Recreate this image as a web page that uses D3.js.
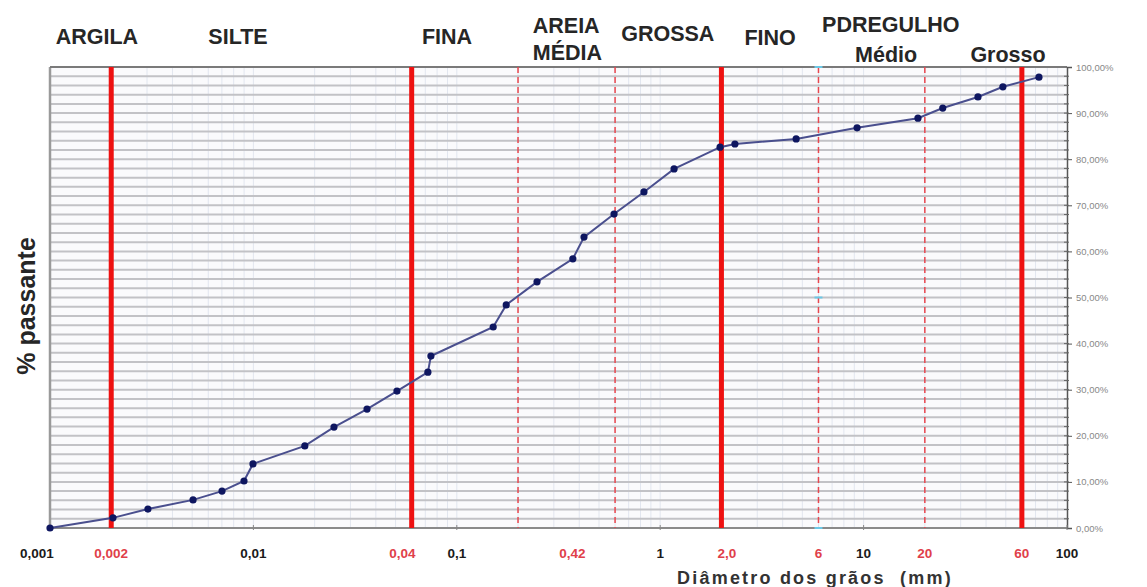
<!DOCTYPE html>
<html>
<head>
<meta charset="utf-8">
<script src="https://cdn.jsdelivr.net/npm/d3@7"></script>
<style>
  body { margin: 0; background: #fff; }
  svg { display: block; font-family: "Liberation Sans", Arial, sans-serif; }
</style>
</head>
<body>
<div id="plotSect"></div>
<script>
// grain size curve data (mm, % passing)
const grainSize = [0.001, 0.00204, 0.00303, 0.00505, 0.00701, 0.00899, 0.00995, 0.0179, 0.0249, 0.0362,
    0.0508, 0.0721, 0.0746, 0.151, 0.175, 0.248, 0.372, 0.422, 0.593, 0.832,
    1.17, 1.97, 2.33, 4.66, 9.29, 18.5, 24.5, 36.5, 48.4, 72.8];
const passing = [0, 2.2, 4.1, 6.1, 8.0, 10.2, 13.9, 17.8, 21.9, 25.8,
    29.7, 33.8, 37.3, 43.6, 48.4, 53.4, 58.4, 63.1, 68.1, 72.9,
    77.9, 82.6, 83.3, 84.4, 86.8, 88.9, 91.1, 93.5, 95.7, 97.8];

const decadeTicks = [0.001, 0.01, 0.1, 1, 10, 100];
const decadeLabels = ["0,001", "0,01", "0,1", "1", "10", "100"];

const solidLimits = [0.002, 0.06, 2, 60];
const dashedLimits = [0.2, 0.6, 6, 20];

const limitLabels = ["0,002", "0,04", "0,42", "2,0", "6", "20", "60"];
const limitLabelAt = [0.002, 0.054, 0.37, 2.13, 6, 20, 60];

const yTicks = [0, 10, 20, 30, 40, 50, 60, 70, 80, 90, 100];

const classNames = ["ARGILA", "SILTE", "FINA", "AREIA", "MÉDIA", "GROSSA", "FINO", "PDREGULHO", "Médio", "Grosso"];
const classAt = [0.0017, 0.0084, 0.0895, 0.345, 0.35, 1.09, 3.47, 13.6, 12.9, 51.3];
const classBaseline = [44, 44, 44, 33, 60, 41, 45, 32, 62, 62];

let SVGwidth = 1147,
    SVGheight = 587;

let svg = d3.select("#plotSect").append("svg")
    .attr("width", SVGwidth)
    .attr("height", SVGheight);

let xScale = d3.scaleLog().domain([0.001, 100]).range([50, 1067]);
let yScale = d3.scaleLinear().domain([0, 100]).range([528, 67]);

// plot background
svg.append("rect")
    .attr("x", xScale(0.001))
    .attr("y", yScale(100))
    .attr("width", xScale(100) - xScale(0.001))
    .attr("height", yScale(0) - yScale(100))
    .style("fill", "#fafafc");

// vertical log minor grid
let minorX = [];
decadeTicks.slice(0, -1).forEach(function(d) {
    for (let k = 1; k < 10; k++) minorX.push(d * k);
});
svg.selectAll(".vgrid")
    .data(minorX)
    .enter().append("line")
    .attr("class", "vgrid")
    .attr("x1", d => xScale(d)).attr("x2", d => xScale(d))
    .attr("y1", yScale(100)).attr("y2", yScale(0))
    .style("stroke", "#e2e6ef")
    .style("stroke-width", 1);

// horizontal grid every 2%
let hGrid = d3.range(2, 100, 2);
svg.selectAll(".hgrid")
    .data(hGrid)
    .enter().append("line")
    .attr("class", "hgrid")
    .attr("x1", xScale(0.001)).attr("x2", xScale(100))
    .attr("y1", d => yScale(d)).attr("y2", d => yScale(d))
    .style("stroke", "#c2c2c6")
    .style("stroke-width", 2);

// frame
svg.append("line")
    .attr("x1", xScale(0.001)).attr("x2", xScale(0.001))
    .attr("y1", yScale(100)).attr("y2", yScale(0))
    .style("stroke", "#9a9a9a").style("stroke-width", 2.5);
svg.append("line")
    .attr("x1", xScale(0.001)).attr("x2", xScale(100))
    .attr("y1", yScale(100)).attr("y2", yScale(100))
    .style("stroke", "#7a7a7a").style("stroke-width", 2);
svg.append("line")
    .attr("x1", xScale(0.001)).attr("x2", xScale(100))
    .attr("y1", yScale(0)).attr("y2", yScale(0))
    .style("stroke", "#8a8a8a").style("stroke-width", 2);

// right axis
let yAxis = d3.axisRight(yScale)
    .tickValues(yTicks)
    .tickSize(5)
    .tickFormat(d => d3.format(".2f")(d).replace(".", ",") + "%");
let yAxisG = svg.append("g")
    .attr("transform", "translate(" + xScale(100) + ",0)")
    .call(yAxis);
yAxisG.select(".domain").style("stroke", "#555").style("stroke-width", 1.5);
yAxisG.selectAll(".tick line").style("stroke", "#555");
yAxisG.selectAll(".tick text")
    .attr("x", 9)
    .style("font-size", "9.5px")
    .style("fill", "#888")
    .style("font-family", "'Liberation Sans', Arial, sans-serif");
svg.selectAll(".yminor")
    .data(d3.range(2, 100, 2))
    .enter().append("line")
    .attr("class", "yminor")
    .attr("x1", xScale(100) - 3).attr("x2", xScale(100) + 2)
    .attr("y1", d => yScale(d)).attr("y2", d => yScale(d))
    .style("stroke", "#666").style("stroke-width", 1);

// small decade tick marks on bottom
svg.selectAll(".xtick")
    .data(decadeTicks)
    .enter().append("line")
    .attr("class", "xtick")
    .attr("x1", d => xScale(d)).attr("x2", d => xScale(d))
    .attr("y1", yScale(0) - 3).attr("y2", yScale(0) + 2)
    .style("stroke", "#888").style("stroke-width", 1);

// class limits
svg.selectAll(".limDash")
    .data(dashedLimits)
    .enter().append("line")
    .attr("class", "limDash")
    .attr("x1", d => xScale(d)).attr("x2", d => xScale(d))
    .attr("y1", yScale(100)).attr("y2", yScale(0))
    .style("stroke", "#e8474f")
    .style("stroke-width", 1.5)
    .style("stroke-dasharray", "6,4");

svg.selectAll(".limSolid")
    .data(solidLimits)
    .enter().append("line")
    .attr("class", "limSolid")
    .attr("x1", d => xScale(d)).attr("x2", d => xScale(d))
    .attr("y1", yScale(100)).attr("y2", yScale(0))
    .style("stroke", "#ee1111")
    .style("stroke-width", 5);

// cyan marks on the 6 mm line
svg.selectAll(".cyan")
    .data([0, 50, 100])
    .enter().append("line")
    .attr("class", "cyan")
    .attr("x1", xScale(6) - 4).attr("x2", xScale(6) + 4)
    .attr("y1", d => yScale(d)).attr("y2", d => yScale(d))
    .style("stroke", "#6cc8e6").style("stroke-width", 2);

// curve
let line = d3.line()
    .x((d, i) => xScale(grainSize[i]))
    .y(d => yScale(d));

svg.append("path")
    .datum(passing)
    .attr("d", line)
    .style("fill", "none")
    .style("stroke", "#4a4f8e")
    .style("stroke-width", 2);

svg.selectAll(".point")
    .data(passing)
    .enter().append("circle")
    .attr("class", "point")
    .attr("r", 3.6)
    .attr("cx", (d, i) => xScale(grainSize[i]))
    .attr("cy", d => yScale(d))
    .style("fill", "#0e1660");

// bottom labels
svg.selectAll(".decLabel")
    .data(decadeLabels)
    .enter().append("text")
    .attr("class", "decLabel")
    .attr("x", (d, i) => xScale(decadeTicks[i]) + (i == 0 ? -13 : 0))
    .attr("y", 558)
    .style("text-anchor", "middle")
    .style("font-size", "13.5px")
    .style("font-weight", "bold")
    .style("fill", "#1a1a1a")
    .text(d => d);

svg.selectAll(".limLabel")
    .data(limitLabels)
    .enter().append("text")
    .attr("class", "limLabel")
    .attr("x", (d, i) => xScale(limitLabelAt[i]))
    .attr("y", 558)
    .style("text-anchor", "middle")
    .style("font-size", "13.5px")
    .style("font-weight", "bold")
    .style("fill", "#e0404a")
    .text(d => d);

// class names on top
svg.selectAll(".className")
    .data(classNames)
    .enter().append("text")
    .attr("class", "className")
    .attr("x", (d, i) => xScale(classAt[i]))
    .attr("y", (d, i) => classBaseline[i])
    .style("text-anchor", "middle")
    .style("font-size", "21.5px")
    .style("font-weight", "bold")
    .style("fill", "#262626")
    .text(d => d);

// axis titles
svg.append("text")
    .attr("transform", "rotate(-90)")
    .attr("x", -306)
    .attr("y", 35)
    .style("text-anchor", "middle")
    .style("font-size", "25px")
    .style("font-weight", "bold")
    .style("fill", "#262626")
    .text("% passante");

svg.append("text")
    .attr("x", 815)
    .attr("y", 584)
    .style("text-anchor", "middle")
    .style("font-size", "18px")
    .style("font-weight", "bold")
    .style("letter-spacing", "2.2px")
    .style("fill", "#333")
    .style("white-space", "pre")
    .text("Diâmetro dos grãos  (mm)");
</script>
</body>
</html>
